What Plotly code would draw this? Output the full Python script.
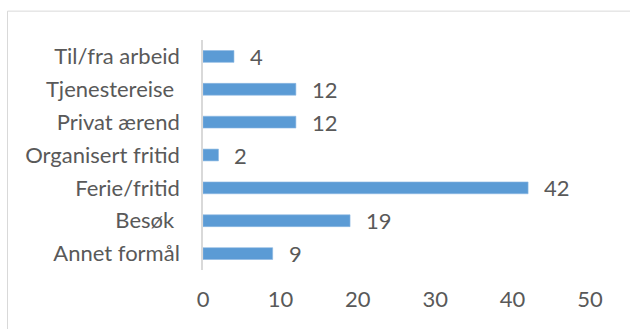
import plotly.graph_objects as go

# Travel purpose counts (top-to-bottom order as listed)
categories = ["Til/fra arbeid", "Tjenestereise\u00a0", "Privat ærend", "Organisert fritid",
              "Ferie/fritid", "Besøk\u00a0", "Annet formål"]
values = [4, 12, 12, 2, 42, 19, 9]
x_ticks = [0, 10, 20, 30, 40, 50]

BLUE = "#5B9BD5"
TEXT = "#595959"
GRID = "#D9D9D9"
FONT = "Lato, Open Sans, sans-serif"
FS = 22

W, H = 630, 329
L, R, T, B = 203, 40, 39.5, 58.5
pw, ph = W - L - R, H - T - B

fig = go.Figure(go.Bar(
    x=values, y=categories, orientation="h",
    marker=dict(color=BLUE, line=dict(color="#8DB8E3", width=0.6)),
    width=0.36,
))

# value labels to the right of each bar
for c, v in zip(categories, values):
    fig.add_annotation(x=v, y=c, text=str(v), showarrow=False,
                       xanchor="left", yanchor="middle", xshift=14,
                       font=dict(family=FONT, size=FS, color=TEXT))

# chart-area frame
def px_x(p):
    return (p - L) / pw

def px_y(p):
    return 1 - (p - T) / ph

fig.add_shape(type="rect", xref="paper", yref="paper",
              x0=px_x(7.5), x1=px_x(700), y0=px_y(10.5), y1=px_y(400),
              line=dict(color=GRID, width=1), fillcolor="rgba(0,0,0,0)", layer="below")

fig.update_layout(
    width=W, height=H,
    margin=dict(l=L, r=R, t=T, b=B, pad=0),
    paper_bgcolor="white", plot_bgcolor="white",
    showlegend=False,
    font=dict(family=FONT, size=FS, color=TEXT),
    xaxis=dict(range=[0, 50], tickvals=x_ticks, showgrid=False, zeroline=False,
               showline=False, ticks="outside", ticklen=10, tickcolor="rgba(0,0,0,0)",
               tickfont=dict(family=FONT, size=FS, color=TEXT), fixedrange=True),
    yaxis=dict(autorange="reversed", showgrid=False, zeroline=False,
               showline=True, linecolor=GRID, linewidth=1.5,
               ticks="outside", ticklen=17, tickcolor="rgba(0,0,0,0)",
               tickfont=dict(family=FONT, size=FS, color=TEXT), fixedrange=True),
)

fig.write_html("out.html")
